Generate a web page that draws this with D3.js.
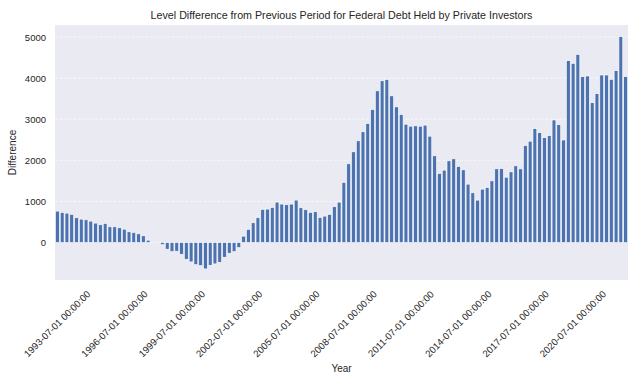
<!DOCTYPE html>
<html lang="en">
  <head>
    <meta charset="UTF-8" />
    <script src="https://cdn.jsdelivr.net/npm/d3@7"></script>
    <title>Federal Debt Held by Private Investors</title>
    <style>
      body { margin: 0; background: #fff; }
      svg { font-family: "Liberation Sans", Arial, sans-serif; }
    </style>
  </head>
  <body>
    <svg width="640" height="384"></svg>
    <script>
      // quarterly, starting 1993-07-01
      var startYear = 1993;
      var startMonth = 7;
      var values = [
        764, 732, 715, 683, 602, 569, 553, 520, 472, 431,
        463, 382, 382, 358, 325, 260, 244, 211, 163, 57,
        0, 0, -49, -163, -220, -211, -285, -407, -472, -537,
        -561, -642, -553, -520, -480, -358, -260, -220, -122, 154,
        320, 480, 602, 805, 813, 853, 983, 935, 919, 935,
        1032, 845, 797, 732, 748, 610, 642, 683, 870, 983,
        1463, 1914, 2206, 2474, 2693, 2896, 3236, 3690, 3934, 3966,
        3568, 3300, 3114, 2879, 2830, 2838, 2830, 2855, 2587, 2109,
        1679, 1760, 1987, 2036, 1849, 1768, 1420, 1209, 1031, 1298,
        1338, 1500, 1792, 1800, 1589, 1719, 1865, 1792, 2360, 2465,
        2770, 2672, 2551, 2600, 2981, 2867, 2494, 4424, 4359, 4578,
        4035, 4051, 3402, 3621, 4075, 4075, 3970, 4181, 5008, 4035
      ];
      var yTicks = [0, 1000, 2000, 3000, 4000, 5000];

      function pad(n) { return n < 10 ? "0" + n : "" + n; }
      var dates = values.map(function (v, i) {
        var m = startMonth - 1 + i * 3;
        var y = startYear + Math.floor(m / 12);
        return y + "-" + pad((m % 12) + 1) + "-01 00:00:00";
      });
      var tickDates = dates.filter(function (d, i) { return i % 12 === 0; });

      var svg = d3.select("svg"),
        margin = { top: 25, right: 12, bottom: 104, left: 55 },
        width = +svg.attr("width") - margin.left - margin.right,
        height = +svg.attr("height") - margin.top - margin.bottom;

      svg.append("text")
        .attr("x", margin.left + width / 2)
        .attr("y", 19)
        .attr("text-anchor", "middle")
        .attr("font-size", 10.7)
        .attr("fill", "#262626")
        .text("Level Difference from Previous Period for Federal Debt Held by Private Investors");

      var g = svg.append("g")
        .attr("transform", "translate(" + margin.left + "," + margin.top + ")");

      var x = d3.scaleBand().domain(dates).range([0, width]).paddingInner(0.2).paddingOuter(0.1);
      var y = d3.scaleLinear().domain([-912, 5292]).range([height, 0]);

      g.append("rect")
        .attr("width", width)
        .attr("height", height)
        .attr("fill", "#eaeaf2");

      g.append("g")
        .selectAll("line")
        .data(yTicks)
        .enter()
        .append("line")
        .attr("x1", 0)
        .attr("x2", width)
        .attr("y1", function (d) { return y(d); })
        .attr("y2", function (d) { return y(d); })
        .attr("stroke", "#fff")
        .attr("stroke-width", 0.8)
        .attr("stroke-opacity", 0.8)
        .attr("stroke-dasharray", "3,1.5");

      g.append("g")
        .selectAll("rect")
        .data(values)
        .enter()
        .append("rect")
        .attr("x", function (d, i) { return x(dates[i]); })
        .attr("y", function (d) { return y(Math.max(0, d)); })
        .attr("width", x.bandwidth())
        .attr("height", function (d) { return Math.abs(y(d) - y(0)); })
        .attr("fill", "#4c72b0")
        .attr("stroke", "#fff")
        .attr("stroke-width", 0.6);

      var yAxis = g.append("g")
        .call(d3.axisLeft(y).tickValues(yTicks).tickFormat(d3.format("d")).tickSize(0).tickPadding(9));
      yAxis.select(".domain").remove();
      yAxis.selectAll("text")
        .attr("font-size", 9.5)
        .attr("fill", "#262626");

      var xAxis = g.append("g")
        .attr("transform", "translate(0," + height + ")")
        .call(d3.axisBottom(x).tickValues(tickDates).tickSize(0));
      xAxis.select(".domain").remove();
      xAxis.selectAll("text")
        .attr("font-size", 9.6)
        .attr("fill", "#262626")
        .attr("text-anchor", "middle")
        .attr("dy", "0.32em")
        .attr("y", 0)
        .attr("transform", "translate(0,44) rotate(-45)");

      svg.append("text")
        .attr("transform", "translate(16," + (margin.top + height / 2) + ") rotate(-90)")
        .attr("text-anchor", "middle")
        .attr("font-size", 10)
        .attr("fill", "#262626")
        .text("Difference");

      svg.append("text")
        .attr("x", margin.left + width / 2)
        .attr("y", 372)
        .attr("text-anchor", "middle")
        .attr("font-size", 10)
        .attr("fill", "#262626")
        .text("Year");
    </script>
  </body>
</html>
